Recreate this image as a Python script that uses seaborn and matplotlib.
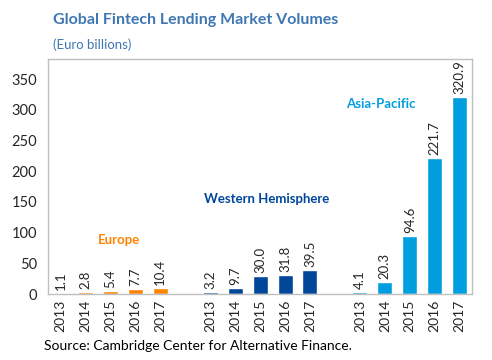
import matplotlib
matplotlib.use("Agg")
import matplotlib.pyplot as plt
import seaborn as sns
import pandas as pd
import numpy as np

years = ["2013", "2014", "2015", "2016", "2017"]
regions = ["Europe", "Western Hemisphere", "Asia-Pacific"]
europe = [1.1, 2.8, 5.4, 7.7, 10.4]
western_hemisphere = [3.2, 9.7, 30.0, 31.8, 39.5]
asia_pacific = [4.1, 20.3, 94.6, 221.7, 320.9]
colors = {"Europe": "#FF8200", "Western Hemisphere": "#00479A", "Asia-Pacific": "#009EDF"}

# build one long table, with empty slots between the region groups
rows = []
order = []
tick_labels = []
for i, (reg, vals) in enumerate(zip(regions, [europe, western_hemisphere, asia_pacific])):
    for y, v in zip(years, vals):
        key = f"{reg} {y}"
        rows.append({"slot": key, "region": reg, "year": y, "value": v})
        order.append(key)
        tick_labels.append(y)
    if i < len(regions) - 1:
        order.append(f"gap{i}")
        tick_labels.append("")
df = pd.DataFrame(rows)

sns.set_style("white")
plt.rcParams["font.family"] = ["Lato", "DejaVu Sans"]

fig = plt.figure(figsize=(4.92, 3.6), dpi=100)
ax = fig.add_axes([0.0976, 0.183, 0.862, 0.652])

sns.barplot(data=df, x="slot", y="value", hue="region", order=order,
            palette=colors, dodge=False, width=0.6, saturation=1,
            legend=False, ax=ax)

ax.set_ylim(0, 382)
ax.set_yticks(range(0, 351, 50))
ax.set_xlim(-0.5, len(order) - 0.5)
ax.set_xticks(range(len(order)))
ax.set_xticklabels(tick_labels, rotation=90, fontsize=10)
ax.tick_params(axis="y", labelsize=10.5, direction="in", length=4, color="#BFBFBF", pad=8)
ax.tick_params(axis="x", length=0, pad=4)
# small separator marks between bars within each group
sep = [k + 0.5 for k in range(len(order) - 1)
       if not order[k].startswith("gap") and not order[k + 1].startswith("gap")]
ax.set_xticks(sep, minor=True)
ax.tick_params(axis="x", which="minor", direction="in", length=3, color="#BFBFBF")
ax.set_xlabel("")
ax.set_ylabel("")
for s in ax.spines.values():
    s.set_visible(True)
    s.set_color("#BFBFBF")
    s.set_linewidth(1)

# value labels above bars
for _, r in df.iterrows():
    xpos = order.index(r["slot"])
    ax.text(xpos, r["value"] + 5, f"{r['value']:.1f}", rotation=90,
            ha="center", va="bottom", fontsize=9.5)

# region labels
ax.text(2.35, 88, "Europe", color=colors["Europe"], fontsize=9.5, fontweight="bold",
        ha="center", va="center")
ax.text(8.25, 154, "Western Hemisphere", color=colors["Western Hemisphere"], fontsize=9.5,
        fontweight="bold", ha="center", va="center")
ax.text(12.85, 309, "Asia-Pacific", color=colors["Asia-Pacific"], fontsize=9.5,
        fontweight="bold", ha="center", va="center")

fig.text(0.108, 0.945, "Global Fintech Lending Market Volumes", color="#3E77B2",
         fontsize=11.5, fontweight="bold", va="center")
fig.text(0.108, 0.875, "(Euro billions)", color="#3E77B2", fontsize=9.5, va="center")
fig.text(0.09, 0.04, "Source: Cambridge Center for Alternative Finance.", color="black",
         fontsize=10, va="center")

fig.savefig("out.png", dpi=100)
